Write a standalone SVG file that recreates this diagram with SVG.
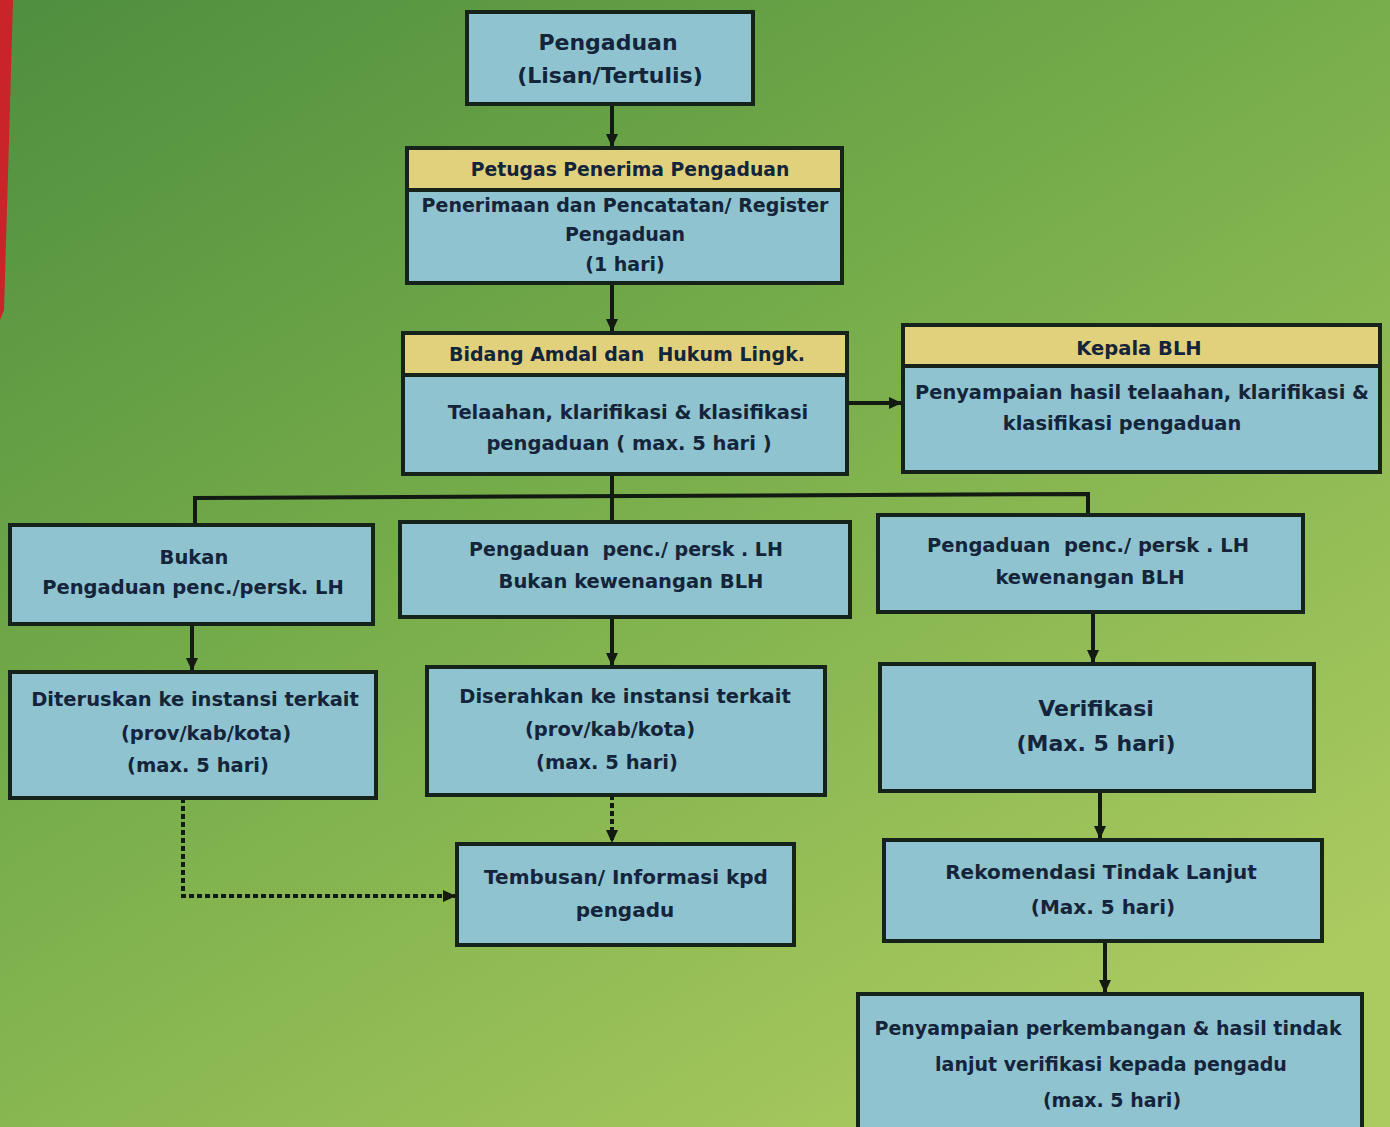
<svg xmlns="http://www.w3.org/2000/svg" width="1390" height="1127" viewBox="0 0 1390 1127">
<defs>
<linearGradient id="bg" x1="0" y1="0" x2="0.75" y2="1">
<stop offset="0" stop-color="#4f8e3f"/>
<stop offset="0.45" stop-color="#75ac4a"/>
<stop offset="1" stop-color="#abca60"/>
</linearGradient>
<marker id="ah" markerWidth="14" markerHeight="14" refX="12" refY="7" orient="auto" markerUnits="userSpaceOnUse">
<path d="M0,1 L13,7 L0,13 Z" fill="#121a12"/>
</marker>
<style>
.box{fill:#8fc3cf;stroke:#16231a;stroke-width:4}
.hdr{fill:#e2d17c;stroke:#16231a;stroke-width:4}
.t{font-family:"DejaVu Sans","Liberation Sans",sans-serif;font-weight:bold;fill:#14243a;text-anchor:middle;white-space:pre}
.c{fill:none;stroke:#121a12;stroke-width:4}
.d{fill:none;stroke:#121a12;stroke-width:4;stroke-dasharray:5 3}
</style>
</defs>
<rect width="1390" height="1127" fill="url(#bg)"/>
<polygon points="0,0 13,0 9,140 4,310 0,320" fill="#c8242a"/>

<g id="connectors">
<line class="c" x1="612" y1="104" x2="612" y2="146" marker-end="url(#ah)"/>
<line class="c" x1="612" y1="283" x2="612" y2="331" marker-end="url(#ah)"/>
<line class="c" x1="847" y1="403" x2="901" y2="403" marker-end="url(#ah)"/>
<line class="c" x1="612" y1="474" x2="612" y2="522"/>
<polyline class="c" points="195,525 195,498 1088,494 1088,515"/>
<line class="c" x1="192" y1="624" x2="192" y2="670" marker-end="url(#ah)"/>
<line class="c" x1="612" y1="617" x2="612" y2="665" marker-end="url(#ah)"/>
<line class="c" x1="1093" y1="612" x2="1093" y2="662" marker-end="url(#ah)"/>
<line class="d" x1="612" y1="795" x2="612" y2="842" marker-end="url(#ah)"/>
<polyline class="d" points="183,798 183,896 455,896" marker-end="url(#ah)"/>
<line class="c" x1="1100" y1="791" x2="1100" y2="838" marker-end="url(#ah)"/>
<line class="c" x1="1105" y1="941" x2="1105" y2="992" marker-end="url(#ah)"/>
</g>

<g id="n-pengaduan">
<rect class="box" x="467" y="12" width="286" height="92"/>
<text class="t" x="608" y="50" font-size="22">Pengaduan</text>
<text class="t" x="610" y="83" font-size="22">(Lisan/Tertulis)</text>
</g>

<g id="n-petugas">
<rect class="box" x="407" y="148" width="435" height="135"/>
<rect class="hdr" x="407" y="148" width="435" height="42"/>
<text class="t" x="630" y="176" font-size="18.8">Petugas Penerima Pengaduan</text>
<text class="t" x="625" y="212" font-size="19">Penerimaan dan Pencatatan/ Register</text>
<text class="t" x="625" y="241" font-size="19">Pengaduan</text>
<text class="t" x="625" y="271" font-size="19">(1 hari)</text>
</g>

<g id="n-bidang">
<rect class="box" x="403" y="333" width="444" height="141"/>
<rect class="hdr" x="403" y="333" width="444" height="42"/>
<text class="t" x="627" y="361" font-size="19" xml:space="preserve">Bidang Amdal dan  Hukum Lingk.</text>
<text class="t" x="628" y="419" font-size="19.5">Telaahan, klarifikasi &amp; klasifikasi</text>
<text class="t" x="629" y="450" font-size="19.5">pengaduan ( max. 5 hari )</text>
</g>

<g id="n-kepala">
<rect class="box" x="903" y="325" width="477" height="147"/>
<rect class="hdr" x="903" y="325" width="477" height="41"/>
<text class="t" x="1139" y="355" font-size="19.5">Kepala BLH</text>
<text class="t" x="1142" y="399" font-size="19.4">Penyampaian hasil telaahan, klarifikasi &amp;</text>
<text class="t" x="1122" y="430" font-size="19.4">klasifikasi pengaduan</text>
</g>

<g id="n-bukan">
<rect class="box" x="10" y="525" width="363" height="99"/>
<text class="t" x="194" y="564" font-size="19.5">Bukan</text>
<text class="t" x="193" y="594" font-size="19.5">Pengaduan penc./persk. LH</text>
</g>

<g id="n-bukan-kewenangan">
<rect class="box" x="400" y="522" width="450" height="95"/>
<text class="t" x="626" y="556" font-size="19" xml:space="preserve">Pengaduan  penc./ persk . LH</text>
<text class="t" x="631" y="588" font-size="19.5">Bukan kewenangan BLH</text>
</g>

<g id="n-kewenangan">
<rect class="box" x="878" y="515" width="425" height="97"/>
<text class="t" x="1088" y="552" font-size="19.5" xml:space="preserve">Pengaduan  penc./ persk . LH</text>
<text class="t" x="1090" y="584" font-size="19.5">kewenangan BLH</text>
</g>

<g id="n-diteruskan">
<rect class="box" x="10" y="672" width="366" height="126"/>
<text class="t" x="195" y="706" font-size="19.5">Diteruskan ke instansi terkait</text>
<text class="t" x="206" y="740" font-size="19.5">(prov/kab/kota)</text>
<text class="t" x="198" y="772" font-size="19.5">(max. 5 hari)</text>
</g>

<g id="n-diserahkan">
<rect class="box" x="427" y="667" width="398" height="128"/>
<text class="t" x="625" y="703" font-size="19.5">Diserahkan ke instansi terkait</text>
<text class="t" x="610" y="736" font-size="19.5">(prov/kab/kota)</text>
<text class="t" x="607" y="769" font-size="19.5">(max. 5 hari)</text>
</g>

<g id="n-verifikasi">
<rect class="box" x="880" y="664" width="434" height="127"/>
<text class="t" x="1096" y="716" font-size="22">Verifikasi</text>
<text class="t" x="1096" y="751" font-size="22">(Max. 5 hari)</text>
</g>

<g id="n-tembusan">
<rect class="box" x="457" y="844" width="337" height="101"/>
<text class="t" x="626" y="884" font-size="20">Tembusan/ Informasi kpd</text>
<text class="t" x="625" y="917" font-size="20">pengadu</text>
</g>

<g id="n-rekomendasi">
<rect class="box" x="884" y="840" width="438" height="101"/>
<text class="t" x="1101" y="879" font-size="20">Rekomendasi Tindak Lanjut</text>
<text class="t" x="1103" y="914" font-size="20">(Max. 5 hari)</text>
</g>

<g id="n-penyampaian">
<rect class="box" x="858" y="994" width="504" height="140"/>
<text class="t" x="1108" y="1035" font-size="19">Penyampaian perkembangan &amp; hasil tindak</text>
<text class="t" x="1111" y="1071" font-size="19">lanjut verifikasi kepada pengadu</text>
<text class="t" x="1112" y="1107" font-size="19">(max. 5 hari)</text>
</g>
</svg>
